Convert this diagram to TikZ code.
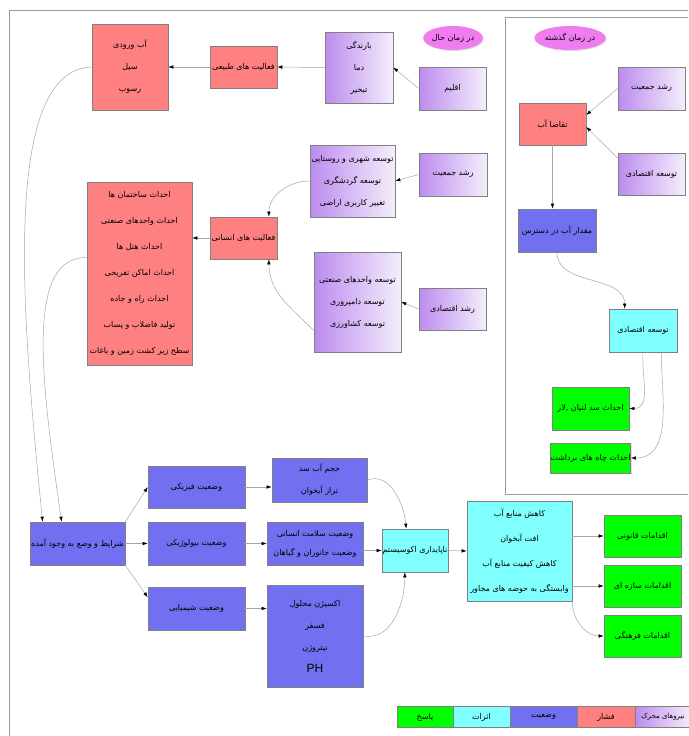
\documentclass[tikz,border=0pt]{standalone}
\usepackage{fontspec}
\usetikzlibrary{arrows.meta,shapes.geometric,shadows,calc}
\newfontfamily\arabicfont[Script=Arabic]{DejaVu Sans}
\newfontfamily\latinfont{Liberation Sans}
\TeXXeTstate=1
\newcommand{\fatext}[1]{\beginR #1\endR}
\definecolor{presscol}{RGB}{255,128,128}
\definecolor{statecol}{RGB}{112,112,240}
\definecolor{impactcol}{RGB}{128,255,255}
\definecolor{respcol}{RGB}{0,255,0}
\definecolor{driveleft}{RGB}{188,140,238}
\definecolor{driveright}{RGB}{244,238,252}
\definecolor{ovalcol}{RGB}{240,125,240}
\definecolor{edgecol}{RGB}{128,128,128}
\begin{document}
\begin{tikzpicture}[x=1pt,y=-1pt]
	\tikzstyle{every node}+=[inner sep=0pt,align=center,font=\arabicfont\fontsize{8}{22}\selectfont]
	\tikzstyle{box}=[draw=edgecol,line width=0.6pt,drop shadow={shadow xshift=1.2pt,shadow yshift=-1.2pt,opacity=0.25}]
	\tikzstyle{pressbox}=[box,fill=presscol]
	\tikzstyle{drivebox}=[box,left color=driveleft,right color=driveright]
	\tikzstyle{statebox}=[box,fill=statecol]
	\tikzstyle{impactbox}=[box,fill=impactcol]
	\tikzstyle{respbox}=[box,fill=respcol]
	\tikzstyle{ovalbox}=[ellipse,fill=ovalcol,drop shadow={shadow xshift=1pt,shadow yshift=-1pt,opacity=0.25}]
	\tikzstyle{legbox}=[draw=edgecol,line width=0.6pt,minimum height=21pt]
	\tikzstyle{conn}=[draw=gray!70,line width=0.5pt,-{Latex[length=5pt,width=3.5pt,color=black]}]
	\useasboundingbox (0,0) rectangle (688,736);
	\draw [edgecol!80] (9,736) -- (9,10) -- (688,10);
	\draw [edgecol!80] (688,17) -- (505,17) -- (505,494) -- (688,494);
	\node[pressbox,minimum width=76pt,minimum height=86pt] (inflow) at (130,67) {\fatext{آب ورودی}\\\fatext{سیل}\\\fatext{رسوب}};
	\node[pressbox,minimum width=67pt,minimum height=42pt] (natact) at (243.5,67) {\fatext{فعالیت های طبیعی}};
	\node[drivebox,minimum width=68pt,minimum height=71pt] (climvars) at (359,67.5) {\fatext{بارندگی}\\\fatext{دما}\\\fatext{تبخیر}};
	\node[ovalbox,minimum width=48pt,minimum height=24pt] (nowlbl) at (453,38) {\fatext{در زمان حال}};
	\node[drivebox,minimum width=67pt,minimum height=43pt] (climate) at (452.5,88.5) {\fatext{اقلیم}};
	\node[ovalbox,minimum width=66pt,minimum height=24pt] (pastlbl) at (570,38) {\fatext{در زمان گذشته}};
	\node[drivebox,minimum width=67pt,minimum height=43pt] (popold) at (651.5,88.5) {\fatext{رشد جمعیت}};
	\node[pressbox,minimum width=67pt,minimum height=42pt] (demand) at (552.5,124) {\fatext{تقاضا آب}};
	\node[drivebox,minimum width=67pt,minimum height=42pt] (econold) at (651.5,174) {\fatext{توسعه اقتصادی}};
	\node[statebox,minimum width=78pt,minimum height=43pt] (avail) at (557,230.5) {\fatext{مقدار آب در دسترس}};
	\node[impactbox,minimum width=68pt,minimum height=43pt] (econdev) at (643,330.5) {\fatext{توسعه اقتصادی}};
	\node[respbox,minimum width=77pt,minimum height=43pt] (dam) at (590.5,408.5) {\fatext{احداث سد لتیان ,لار}};
	\node[respbox,minimum width=77pt,minimum height=30pt] (wells) at (590.5,458) {\fatext{احداث چاه های برداشت}};
	\node[drivebox,minimum width=85pt,minimum height=72pt] (urban) at (352.5,181) {\fatext{توسعه شهری و روستایی}\\\fatext{توسعه گردشگری}\\\fatext{تغییر کاربری اراضی}};
	\node[drivebox,minimum width=68pt,minimum height=43pt] (popnow) at (453,174.5) {\fatext{رشد جمعیت}};
	\node[drivebox,minimum width=87pt,minimum height=100pt] (indus) at (357.5,302) {\fatext{توسعه واحدهای صنعتی}\\\fatext{توسعه دامپروری}\\\fatext{توسعه کشاورزی}};
	\node[drivebox,minimum width=67pt,minimum height=42pt] (econnow) at (452.5,309) {\fatext{رشد اقتصادی}};
	\node[pressbox,minimum width=67pt,minimum height=42pt] (humact) at (243.5,238) {\fatext{فعالیت های انسانی}};
	\node[pressbox,minimum width=105pt,minimum height=183pt,font=\arabicfont\fontsize{8}{26}\selectfont] (build) at (139.5,273.5) {\fatext{احداث ساختمان ها}\\\fatext{احداث واحدهای صنعتی}\\\fatext{احداث هتل ها}\\\fatext{احداث اماکن تفریحی}\\\fatext{احداث راه و جاده}\\\fatext{تولید فاضلاب و پساب}\\\fatext{سطح زیر کشت زمین و باغات}};
	\node[statebox,minimum width=95pt,minimum height=43pt] (cond) at (77.5,543.5) {\fatext{شرایط و وضع به وجود آمده}};
	\node[statebox,minimum width=97pt,minimum height=42pt] (phys) at (196.5,487) {\fatext{وضعیت فیزیکی}};
	\node[statebox,minimum width=97pt,minimum height=43pt] (bio) at (196.5,543.5) {\fatext{وضعیت بیولوژیکی}};
	\node[statebox,minimum width=97pt,minimum height=43pt] (chem) at (196.5,608.5) {\fatext{وضعیت شیمیایی}};
	\node[statebox,minimum width=95pt,minimum height=44pt] (damvol) at (319.5,480) {\fatext{حجم آب سد}\\\fatext{تراز آبخوان}};
	\node[statebox,minimum width=96pt,minimum height=43pt,font=\arabicfont\fontsize{8}{19}\selectfont] (health) at (315,543.5) {\fatext{وضعیت سلامت انسانی}\\\fatext{وضعیت جانوران و گیاهان}};
	\node[statebox,minimum width=96pt,minimum height=102pt] (nutr) at (315,636) {\fatext{اکسیژن محلول}\\\fatext{فسفر}\\\fatext{نیتروژن}\\{\latinfont\fontsize{12}{18}\selectfont PH}};
	\node[impactbox,minimum width=66pt,minimum height=43pt] (unstable) at (415,550.5) {\fatext{ناپایداری اکوسیستم}};
	\node[impactbox,minimum width=105pt,minimum height=100pt,font=\arabicfont\fontsize{8}{25}\selectfont] (effects) at (519.5,551) {\fatext{کاهش منابع آب}\\\fatext{افت آبخوان}\\\fatext{کاهش کیفیت منابع آب}\\\fatext{وابستگی به حوضه های مجاور}};
	\node[respbox,minimum width=77pt,minimum height=42pt] (legal) at (642.5,536) {\fatext{اقدامات قانونی}};
	\node[respbox,minimum width=77pt,minimum height=42pt] (struct) at (642.5,586) {\fatext{اقدامات سازه ای}};
	\node[respbox,minimum width=77pt,minimum height=42pt] (cult) at (642.5,636) {\fatext{اقدامات فرهنگی}};
	\node[legbox,fill=respcol,minimum width=56pt] (legresp) at (425,717) {\fatext{پاسخ}};
	\node[legbox,fill=impactcol,minimum width=57pt] (legimp) at (481.5,717) {\fatext{اثرات}};
	\node[legbox,fill=statecol,minimum width=67pt] (legstate) at (543.5,717) {\fatext{وضعیت}};
	\node[legbox,fill=presscol,minimum width=58pt] (legpress) at (606,717) {\fatext{فشار}};
	\node[legbox,left color=driveleft,right color=driveright,minimum width=56pt,font=\arabicfont\fontsize{7}{22}\selectfont] (legdrive) at (663,717) {\fatext{نیروهای محرک}};
	\draw[conn] (natact.west) -- (inflow.east);
	\draw[conn] (climvars.west) -- (natact.east);
	\draw[conn] (climate.west) -- (climvars.east);
	\draw[conn] (popold.west) -- (demand.15);
	\draw[conn] (econold.155) -- (demand.-5);
	\draw[conn] (demand.south) -- (demand.south |- avail.north);
	\draw[conn] (avail.south) to[out=-90,in=90] (econdev.130);
	\draw[conn] (econdev.south) to[out=-95,in=0] (dam.east);
	\draw[conn] (econdev.-50) to[out=-90,in=0] (wells.east);
	\draw[conn] (popnow.west) -- (urban.east);
	\draw[conn] (econnow.west) -- (indus.east);
	\draw[conn] (urban.west) to[out=180,in=90] (humact.40);
	\draw[conn] (indus.213) to[out=135,in=-90] (humact.-40);
	\draw[conn] (humact.west) -- (humact.west -| build.east);
	\draw[conn] (inflow.west) .. controls ($(inflow.west)+(-92,3)$) and ($(cond.148)+(-20,-200)$) .. (cond.148);
	\draw[conn] (build.163) .. controls ($(build.163)+(-60,0)$) and ($(cond.126)+(-22,-150)$) .. (cond.126);
	\draw[conn] (cond.north east) -- (phys.west);
	\draw[conn] (cond.east) -- (bio.west);
	\draw[conn] (cond.south east) -- (chem.167);
	\draw[conn] (phys.east) -- (phys.east -| damvol.west);
	\draw[conn] (bio.east) -- (health.west);
	\draw[conn] (chem.east) -- (chem.east -| nutr.west);
	\draw[conn] (damvol.east) to[out=20,in=95] (unstable.112);
	\draw[conn] (health.east |- unstable.west) -- (unstable.west);
	\draw[conn] (nutr.east) to[out=-10,in=-90] (unstable.-115);
	\draw[conn] (unstable.east) -- (effects.west);
	\draw[conn] (effects.east |- legal.west) -- (legal.west);
	\draw[conn] (effects.east |- struct.west) -- (struct.west);
	\draw[conn] (effects.south east) to[out=-90,in=180] (cult.west);
\end{tikzpicture}
\end{document}
